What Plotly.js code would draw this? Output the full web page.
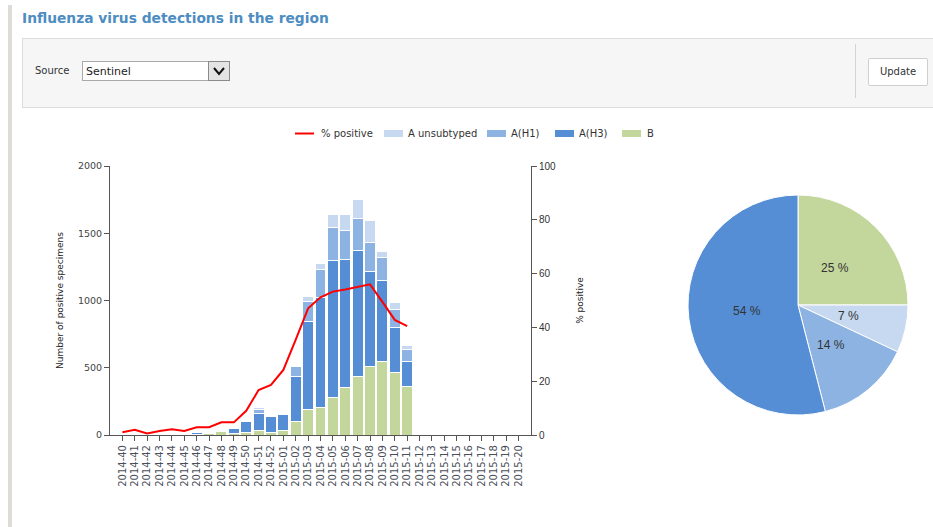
<!DOCTYPE html>
<html>
<head>
<meta charset="utf-8">
<script src="https://cdn.plot.ly/plotly-3.0.1.min.js"></script>
<style>
  html, body { margin:0; padding:0; width:933px; height:527px; overflow:hidden; background:#fff; font-family:"DejaVu Sans", sans-serif; }
  #chart { position:absolute; left:0; top:0; width:933px; height:527px; }
  .abs { position:absolute; }
  #leftbar { left:8px; top:5px; width:4px; height:522px; background:#dfdbd7; }
  #title { left:22px; top:10px; font-weight:bold; font-size:13.8px; color:#4d8dc2; white-space:nowrap; }
  #panel { left:22px; top:38px; width:920px; height:70px; background:#f6f6f6; border:1px solid #dcdcdc; box-sizing:border-box; }
  #srclbl { left:35px; top:65px; font-size:10px; color:#333; }
  #select { left:82px; top:61px; width:148px; height:20px; background:#fff; border:1px solid #a9a9a9; box-sizing:border-box; }
  #seltxt { left:86px; top:65px; font-size:11px; color:#222; }
  #selbtn { left:208px; top:61px; width:22px; height:20px; background:#e4e4e4; border:1px solid #8a8a8a; box-sizing:border-box; }
  #divider { left:855px; top:44px; width:1px; height:54px; background:#d4d4d4; }
  #update { left:868px; top:58px; width:60px; height:28px; background:#fff; border:1px solid #cfcfcf; border-radius:2px; box-sizing:border-box; font-size:10px; color:#333; text-align:center; line-height:26px; }
</style>
</head>
<body>
<div id="chart"></div>
<div id="leftbar" class="abs"></div>
<div id="title" class="abs">Influenza virus detections in the region</div>
<div id="panel" class="abs"></div>
<div id="srclbl" class="abs">Source</div>
<div id="select" class="abs"></div>
<div id="seltxt" class="abs">Sentinel</div>
<div id="selbtn" class="abs"><svg width="20" height="18" style="position:absolute;left:0;top:0"><polyline points="5,6 10,12 15,6" fill="none" stroke="#111" stroke-width="2"/></svg></div>
<div id="divider" class="abs"></div>
<div id="update" class="abs">Update</div>
<script>
// ---- data ----
const weeks = ['2014-40','2014-41','2014-42','2014-43','2014-44','2014-45','2014-46','2014-47','2014-48','2014-49','2014-50','2014-51','2014-52',
  '2015-01','2015-02','2015-03','2015-04','2015-05','2015-06','2015-07','2015-08','2015-09','2015-10','2015-11','2015-12','2015-13','2015-14',
  '2015-15','2015-16','2015-17','2015-18','2015-19','2015-20'];
const fluB      = [1,2,1,2,3,3,5,10,25,8,20,35,22,35,99,193,208,280,352,434,506,548,468,359];
const fluAH3    = [2,2,2,3,6,7,10,7,10,40,77,126,114,114,335,650,816,1016,954,941,713,604,330,191];
const fluAH1    = [0,0,0,0,4,3,5,5,5,3,7,30,7,12,74,153,203,248,218,231,211,166,136,84];
const fluAunsub = [0,0,0,0,0,0,0,5,5,0,0,15,0,0,0,37,49,99,112,146,164,43,50,30];
const pctPositive = [1.0,1.9,0.6,1.5,2.1,1.5,2.9,2.9,4.7,4.7,9.0,16.7,18.6,24.2,35.5,47.1,51.2,53.3,54.1,55.1,56.0,49.5,42.8,40.5];
const pieLabels = ['B','A unsubtyped','A(H1)','A(H3)'];
const pieValues = [25,7,14,54];

// ---- styling ----
const W = 933, H = 527;
const X = p => p / W;
const Y = p => 1 - p / H;
const col = { unsub:'#c6d9f1', h1:'#8db3e2', h3:'#558ed5', b:'#c3d69b', line:'#ff0000' };
const idx = weeks.map((w, i) => i);
const dataIdx = n => idx.slice(0, n);

function barTrace(name, vals, color) {
  return { type:'bar', name:name, x:dataIdx(vals.length), y:vals,
    marker:{ color:color, line:{ color:'#ffffff', width:1 } }, hoverinfo:'skip', showlegend:false };
}

// pie geometry (pixels)
const pie = { left:688, right:908, top:195, bottom:415 };
const pcx = (pie.left + pie.right) / 2, pcy = (pie.top + pie.bottom) / 2, pr = (pie.right - pie.left) / 2;

const traces = [
  barTrace('B', fluB, col.b),
  barTrace('A(H3)', fluAH3, col.h3),
  barTrace('A(H1)', fluAH1, col.h1),
  barTrace('A unsubtyped', fluAunsub, col.unsub),
  { type:'scatter', mode:'lines', name:'% positive', x:dataIdx(pctPositive.length), y:pctPositive, yaxis:'y2',
    line:{ color:col.line, width:2 }, hoverinfo:'skip', showlegend:false },
  { type:'pie', labels:pieLabels, values:pieValues, sort:false, direction:'clockwise', rotation:0,
    marker:{ colors:[col.b, col.unsub, col.h1, col.h3], line:{ color:'#ffffff', width:1 } },
    textinfo:'none',
    domain:{ x:[X(pie.left), X(pie.right)], y:[Y(pie.bottom), Y(pie.top)] }, showlegend:false, hoverinfo:'skip' }
];

const shapes = [], annotations = [];

// pie labels along slice bisectors
const pieTotal = pieValues.reduce((a, b) => a + b, 0);
let cum = 0;
pieValues.forEach(v => {
  const a = (cum + v / 2) / pieTotal * 2 * Math.PI;
  cum += v;
  const lx = pcx + pr * 0.47 * Math.sin(a), ly = pcy - pr * 0.47 * Math.cos(a);
  annotations.push({ xref:'paper', yref:'paper', x:X(lx), y:Y(ly), xanchor:'center', yanchor:'middle',
    text:Math.round(v / pieTotal * 100) + ' %', showarrow:false,
    font:{ family:'Liberation Sans, Arial, sans-serif', size:12, color:'#333' } });
});

// custom legend
const legendItems = [
  { kind:'line', color:col.line, x0:295, x1:314, text:'% positive', tx:319 },
  { kind:'box', color:col.unsub, x0:384, x1:403, text:'A unsubtyped', tx:406 },
  { kind:'box', color:col.h1, x0:487, x1:506, text:'A(H1)', tx:509 },
  { kind:'box', color:col.h3, x0:555, x1:574, text:'A(H3)', tx:577 },
  { kind:'box', color:col.b, x0:622, x1:641, text:'B', tx:645 }
];
const legY = 133.5;
legendItems.forEach(it => {
  if (it.kind === 'line') {
    shapes.push({ type:'line', xref:'paper', yref:'paper', x0:X(it.x0), x1:X(it.x1), y0:Y(legY), y1:Y(legY),
      line:{ color:it.color, width:2 } });
  } else {
    shapes.push({ type:'rect', xref:'paper', yref:'paper', x0:X(it.x0), x1:X(it.x1), y0:Y(legY+3.5), y1:Y(legY-3.5),
      fillcolor:it.color, line:{ width:0 } });
  }
  annotations.push({ xref:'paper', yref:'paper', x:X(it.tx), y:Y(legY), xanchor:'left', yanchor:'middle',
    text:it.text, showarrow:false, font:{ family:'DejaVu Sans, sans-serif', size:10, color:'#333' } });
});

const layout = {
  width:W, height:H, margin:{ l:0, r:0, t:0, b:0 },
  paper_bgcolor:'rgba(0,0,0,0)', plot_bgcolor:'rgba(0,0,0,0)',
  barmode:'stack', bargap:0.12, showlegend:false,
  xaxis:{ domain:[X(110), X(531)], range:[-1, 33], tickmode:'array', tickvals:idx, ticktext:weeks,
    tickangle:-90, ticks:'outside', ticklen:5, tickcolor:'#555', showline:true, linecolor:'#555', linewidth:1,
    showgrid:false, zeroline:false, fixedrange:true,
    tickfont:{ family:'DejaVu Sans, sans-serif', size:10, color:'#4a4f5a' } },
  yaxis:{ domain:[Y(435), Y(166)], range:[0, 2000], dtick:500, ticks:'outside', ticklen:5, tickcolor:'#555',
    showline:true, linecolor:'#555', linewidth:1, showgrid:false, zeroline:false,
    tickfont:{ family:'DejaVu Sans, sans-serif', size:9.5, color:'#444' },
    title:{ text:'Number of positive specimens', standoff:12, font:{ family:'DejaVu Sans, sans-serif', size:9, color:'#222' } } },
  yaxis2:{ overlaying:'y', side:'right', range:[0, 100], dtick:20, ticks:'outside', ticklen:5, tickcolor:'#555',
    showline:true, linecolor:'#555', linewidth:1, showgrid:false, zeroline:false,
    tickfont:{ family:'Liberation Sans, Arial, sans-serif', size:10, color:'#333' },
    title:{ text:'% positive', standoff:21, font:{ family:'DejaVu Sans, sans-serif', size:9, color:'#222' } } },
  shapes:shapes, annotations:annotations
};

Plotly.newPlot('chart', traces, layout, { staticPlot:true, displayModeBar:false });
</script>
</body>
</html>
